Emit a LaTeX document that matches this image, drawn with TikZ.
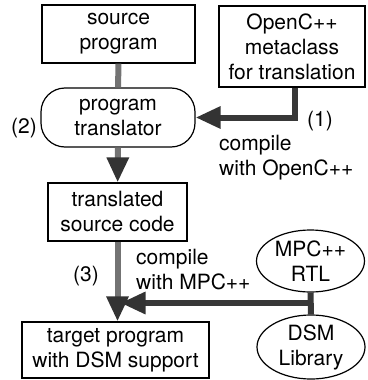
\documentclass[tikz,border=0pt]{standalone}
\usepackage{fontspec}
\setmainfont{TeX Gyre Heros}
\usetikzlibrary{shapes.geometric,arrows.meta}

\begin{document}
\begin{tikzpicture}[x=1pt, y=-1pt, >={Triangle[length=25pt,width=21pt,color=black!80]},
  font=\fontsize{21}{25}\selectfont]
\tikzset{
  box/.style={
    draw, rectangle, line width=1.2pt,
    inner sep=0pt, align=center
  },
  blob/.style={
    draw, ellipse, line width=1.2pt,
    inner sep=0pt, align=center,
    minimum width=108pt
  },
  link/.style={line width=6pt, draw=black!55},
  darklink/.style={link, draw=black!78}
}
\useasboundingbox (0,0) rectangle (367,380);

\node[box, minimum width=153pt, minimum height=58pt] (src) at (118.5,34) {source\\program};
\node[box, minimum width=146pt, minimum height=81pt] (meta) at (292,46.5) {OpenC++\\metaclass\\for translation};
\node[box, rounded corners=24pt, minimum width=154pt, minimum height=59pt] (transl) at (118,117.5) {program\\translator};
\node[box, minimum width=139pt, minimum height=58pt] (tsrc) at (117.5,212) {translated\\source code};
\node[box, minimum width=187pt, minimum height=56pt] (target) at (115.5,350) {target program\\with DSM support};
\node[blob, minimum height=62pt] (rtl) at (310.5,261) {MPC++\\RTL};
\node[blob, minimum height=64pt] (dsm) at (311,347) {DSM\\Library};

\node (step1) at (320,121) {(1)};
\node (step2) at (24,128) {(2)};
\node (step3) at (86,276) {(3)};
\node[anchor=west, align=left, inner sep=0pt] (cpp) at (219,158) {compile\\with OpenC++};
\node[anchor=west, align=left, inner sep=0pt] (mpc) at (136,270) {compile\\with MPC++};

\draw[link] (src) -- (transl);
\draw[darklink, ->] ([xshift=3pt]meta.south) |- (transl.east);
\draw[link, ->] (transl) -- (tsrc);
\draw[link, ->] (tsrc.south) -- (tsrc.south |- target.north);
\draw[darklink] (rtl) -- (dsm);
\coordinate (join) at (312,303);
\draw[darklink, ->] (join) -- ([xshift=3pt]join -| tsrc.south);
\end{tikzpicture}
\end{document}
